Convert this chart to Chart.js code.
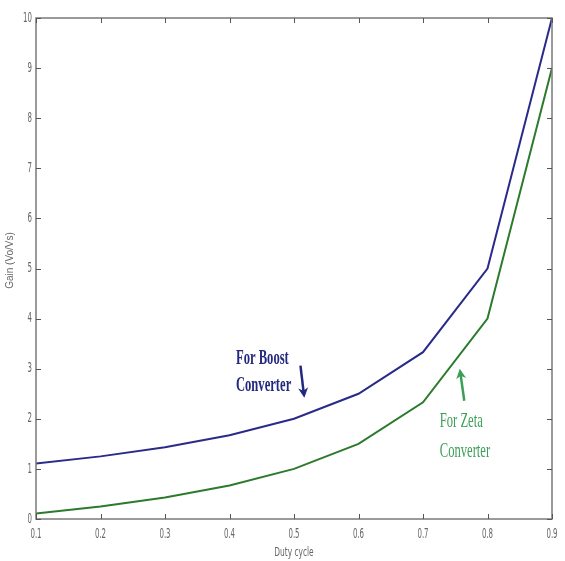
<!DOCTYPE html>
<html>
<head>
<meta charset="utf-8">
<script src="https://cdn.jsdelivr.net/npm/chart.js@4"></script>
<style>
  html, body { margin: 0; padding: 0; background: #fff; }
  #wrap { width: 565px; height: 561px; }
</style>
</head>
<body>
<div id="wrap"><canvas id="gainChart" width="565" height="561"></canvas></div>
<script>
// duty cycle vs voltage gain
const dutyCycle = [0.1, 0.2, 0.3, 0.4, 0.5, 0.6, 0.7, 0.8, 0.9];
const boostGain = [1.11, 1.25, 1.43, 1.67, 2.0, 2.5, 3.33, 5.0, 10.0];
const zetaGain = [0.11, 0.25, 0.43, 0.67, 1.0, 1.5, 2.33, 4.0, 9.0];
const xTickLabels = ["0.1", "0.2", "0.3", "0.4", "0.5", "0.6", "0.7", "0.8", "0.9"];
const yTickLabels = ["0", "1", "2", "3", "4", "5", "6", "7", "8", "9", "10"];

function toPoints(xs, ys) {
  return xs.map((x, i) => ({ x: x, y: ys[i] }));
}

// condensed text helper (matlab-ish narrow font)
function narrowText(ctx, text, x, y, sx, align) {
  ctx.save();
  ctx.translate(x, y);
  ctx.scale(sx, 1);
  ctx.textAlign = align;
  ctx.fillText(text, 0, 0);
  ctx.restore();
}

function arrow(ctx, x1, y1, x2, y2, color) {
  const a = Math.atan2(y2 - y1, x2 - x1);
  ctx.save();
  ctx.strokeStyle = color;
  ctx.fillStyle = color;
  ctx.lineWidth = 2.5;
  ctx.beginPath();
  ctx.moveTo(x1, y1);
  ctx.lineTo(x2 - 6 * Math.cos(a), y2 - 6 * Math.sin(a));
  ctx.stroke();
  ctx.beginPath();
  ctx.moveTo(x2, y2);
  ctx.lineTo(x2 - 10 * Math.cos(a) + 5 * Math.sin(a), y2 - 10 * Math.sin(a) - 5 * Math.cos(a));
  ctx.lineTo(x2 - 7 * Math.cos(a), y2 - 7 * Math.sin(a));
  ctx.lineTo(x2 - 10 * Math.cos(a) - 5 * Math.sin(a), y2 - 10 * Math.sin(a) + 5 * Math.cos(a));
  ctx.closePath();
  ctx.fill();
  ctx.restore();
}

const matlabAxes = {
  id: "matlabAxes",
  afterDraw(chart) {
    const ctx = chart.ctx;
    const xs = chart.scales.x, ys = chart.scales.y;
    const a = chart.chartArea;
    ctx.save();
    // box
    ctx.strokeStyle = "#7a7a7a";
    ctx.lineWidth = 1.5;
    ctx.strokeRect(a.left, a.top, a.right - a.left, a.bottom - a.top);
    // inward ticks
    ctx.strokeStyle = "#555";
    ctx.lineWidth = 1;
    ctx.beginPath();
    xs.ticks.forEach(t => {
      const px = Math.round(xs.getPixelForValue(t.value)) + 0.5;
      ctx.moveTo(px, a.bottom); ctx.lineTo(px, a.bottom - 5);
      ctx.moveTo(px, a.top); ctx.lineTo(px, a.top + 5);
    });
    ys.ticks.forEach(t => {
      const py = Math.round(ys.getPixelForValue(t.value)) + 0.5;
      ctx.moveTo(a.left, py); ctx.lineTo(a.left + 5, py);
      ctx.moveTo(a.right, py); ctx.lineTo(a.right - 5, py);
    });
    ctx.stroke();
    // tick labels
    ctx.fillStyle = "#666";
    ctx.font = "14px 'DejaVu Sans'";
    ctx.textBaseline = "middle";
    xs.ticks.forEach((t, i) => {
      narrowText(ctx, xTickLabels[i], xs.getPixelForValue(t.value), a.bottom + 15, 0.5, "center");
    });
    ys.ticks.forEach((t, i) => {
      narrowText(ctx, yTickLabels[i], a.left - 4, ys.getPixelForValue(t.value), 0.5, "right");
    });
    // axis titles
    ctx.font = "12px 'DejaVu Sans'";
    narrowText(ctx, "Duty cycle", (a.left + a.right) / 2, a.bottom + 34, 0.62, "center");
    ctx.save();
    ctx.translate(10, (a.top + a.bottom) / 2 - 8);
    ctx.rotate(-Math.PI / 2);
    ctx.font = "10px 'Liberation Sans'";
    ctx.textAlign = "center";
    ctx.fillText("Gain (Vo/Vs)", 0, 0);
    ctx.restore();

    // annotations
    const X = v => xs.getPixelForValue(v), Y = v => ys.getPixelForValue(v);
    ctx.font = "bold 21px 'Liberation Serif'";
    ctx.fillStyle = "#23297e";
    narrowText(ctx, "For Boost", X(0.41), Y(3.2), 0.6, "left");
    narrowText(ctx, "Converter", X(0.41), Y(2.66), 0.6, "left");
    arrow(ctx, X(0.51), Y(3.06), X(0.516), Y(2.42), "#23297e");
    ctx.font = "21px 'Liberation Serif'";
    ctx.fillStyle = "#3c9e57";
    narrowText(ctx, "For Zeta", X(0.726), Y(1.94), 0.6, "left");
    narrowText(ctx, "Converter", X(0.726), Y(1.34), 0.6, "left");
    arrow(ctx, X(0.764), Y(2.36), X(0.757), Y(3.0), "#3c9e57");
    ctx.restore();
  }
};

new Chart(document.getElementById("gainChart"), {
  type: "line",
  data: {
    datasets: [
      {
        label: "Boost",
        data: toPoints(dutyCycle, boostGain),
        borderColor: "#2a2a8a",
        borderWidth: 2,
        pointRadius: 0,
        fill: false,
        tension: 0
      },
      {
        label: "Zeta",
        data: toPoints(dutyCycle, zetaGain),
        borderColor: "#2c7a2c",
        borderWidth: 2,
        pointRadius: 0,
        fill: false,
        tension: 0
      }
    ]
  },
  options: {
    responsive: false,
    animation: false,
    layout: { padding: { left: 36, top: 18, right: 13, bottom: 42 } },
    plugins: { legend: { display: false }, tooltip: { enabled: false } },
    scales: {
      x: {
        type: "linear",
        min: 0.1,
        max: 0.9,
        grid: { display: false },
        border: { display: false },
        ticks: { display: false, stepSize: 0.1 },
        afterFit: s => { s.height = 0; }
      },
      y: {
        min: 0,
        max: 10,
        grid: { display: false },
        border: { display: false },
        ticks: { display: false, stepSize: 1 },
        afterFit: s => { s.width = 0; }
      }
    }
  },
  plugins: [matlabAxes]
});
</script>
</body>
</html>
